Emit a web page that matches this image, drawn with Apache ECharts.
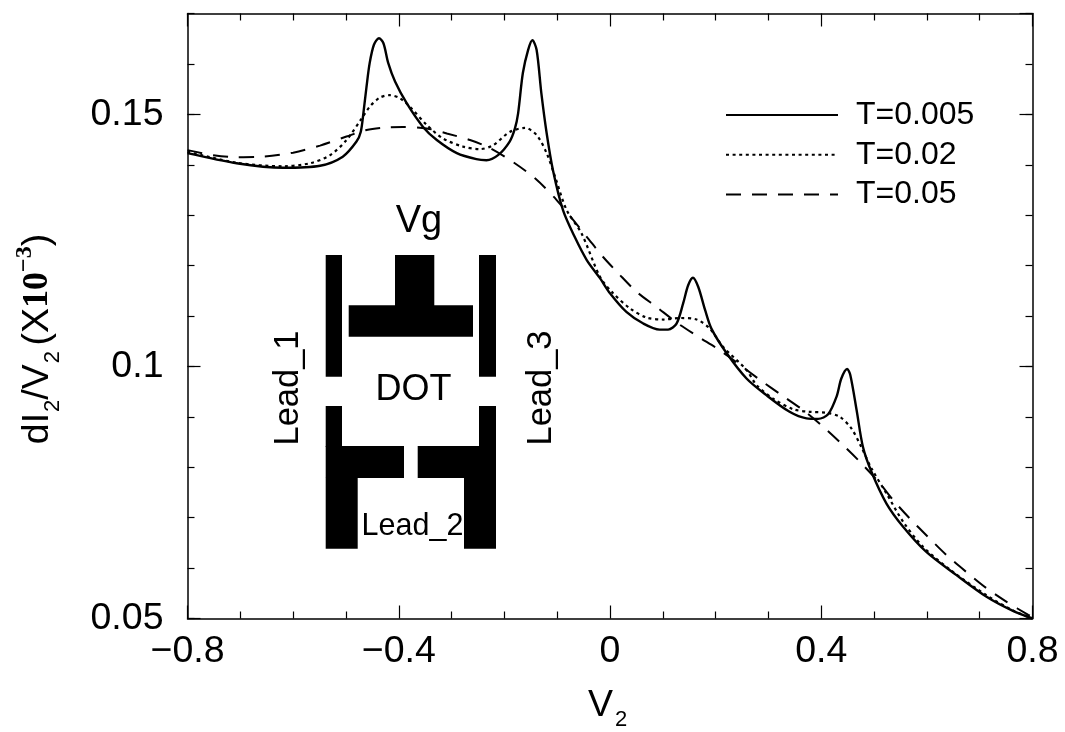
<!DOCTYPE html>
<html><head><meta charset="utf-8">
<style>html,body{margin:0;padding:0;background:#fff}#c{width:1065px;height:732px}</style>
<script src="https://cdn.jsdelivr.net/npm/echarts@6/dist/echarts.min.js"></script>
</head><body><div id="c"></div>
<script>
const seriesNames = ['T=0.005', 'T=0.02', 'T=0.05'];
const xTickValues = [-0.8, -0.4, 0, 0.4, 0.8];
const xTickLabels = ['\u22120.8', '\u22120.4', '0', '0.4', '0.8'];
const yTickValues = [0.05, 0.1, 0.15];
const yTickLabels = ['0.05', '0.1', '0.15'];

const solidX = [-0.8,-0.707,-0.619,-0.549,-0.506,-0.48,-0.472,-0.467,-0.461,-0.455,-0.447,-0.4375,-0.429,-0.42,-0.407,-0.385,-0.354,-0.328,-0.29,-0.253,-0.234,-0.212,-0.19,-0.18,-0.174,-0.165,-0.155,-0.147,-0.139,-0.13,-0.12,-0.108,-0.089,-0.066,-0.044,-0.019,0,0.031,0.063,0.094,0.11,0.126,0.1385,0.148,0.157,0.167,0.18,0.192,0.221,0.2585,0.296,0.34,0.372,0.394,0.413,0.429,0.438,0.449,0.455,0.467,0.479,0.495,0.5235,0.555,0.599,0.656,0.713,0.763,0.8];
const solidY = [0.1423,0.1403,0.1394,0.1398,0.1416,0.1446,0.1465,0.1502,0.1555,0.1602,0.1638,0.1651,0.1641,0.1602,0.1565,0.1522,0.1475,0.1449,0.1423,0.1411,0.1409,0.1419,0.1446,0.1472,0.1502,0.1582,0.1628,0.1647,0.1628,0.1542,0.1463,0.1389,0.131,0.1255,0.1211,0.1175,0.1145,0.1108,0.1085,0.1073,0.1073,0.1085,0.1125,0.1161,0.1176,0.1158,0.1112,0.1075,0.1026,0.0976,0.0943,0.091,0.0897,0.0896,0.0905,0.094,0.0976,0.0995,0.0983,0.0913,0.084,0.0791,0.0728,0.0682,0.0632,0.0586,0.0543,0.0515,0.05];

const dottedX = [-0.8,-0.707,-0.619,-0.568,-0.53,-0.499,-0.47,-0.455,-0.436,-0.417,-0.398,-0.379,-0.347,-0.316,-0.278,-0.246,-0.221,-0.19,-0.161,-0.139,-0.12,-0.104,-0.082,-0.054,-0.019,0.006,0.038,0.069,0.101,0.132,0.164,0.189,0.214,0.2585,0.2775,0.309,0.347,0.378,0.41,0.435,0.457,0.476,0.495,0.5235,0.555,0.593,0.65,0.713,0.763,0.8];
const dottedY = [0.1426,0.1404,0.1397,0.1403,0.1419,0.1449,0.1492,0.1515,0.1533,0.1538,0.1532,0.1515,0.1479,0.1452,0.1436,0.1431,0.1439,0.1465,0.1473,0.1459,0.1423,0.1376,0.131,0.1264,0.1178,0.1145,0.1115,0.1097,0.1093,0.1096,0.1093,0.1075,0.1039,0.0993,0.0963,0.0936,0.0915,0.091,0.0908,0.09,0.0877,0.084,0.0798,0.0748,0.0692,0.0642,0.0592,0.0546,0.0516,0.05];

const dashedX = [-0.8,-0.751,-0.707,-0.657,-0.6,-0.549,-0.499,-0.461,-0.423,-0.392,-0.347,-0.309,-0.265,-0.227,-0.183,-0.142,-0.101,-0.044,-0.013,0.0155,0.0503,0.088,0.129,0.167,0.208,0.246,0.287,0.325,0.366,0.404,0.438,0.473,0.511,0.536,0.568,0.602,0.637,0.675,0.713,0.751,0.792,0.8];
const dashedY = [0.1429,0.1419,0.1415,0.1416,0.1424,0.1438,0.1456,0.1469,0.1474,0.1475,0.1472,0.1462,0.1449,0.1433,0.1405,0.1373,0.133,0.1257,0.1217,0.1185,0.1148,0.1118,0.1085,0.1059,0.1032,0.1003,0.0971,0.0943,0.0913,0.088,0.0847,0.0811,0.0768,0.0735,0.0698,0.0662,0.0626,0.0592,0.056,0.0533,0.0507,0.0503];

const zip = (a, b) => a.map((v, i) => [v, b[i]]);
const FONT = '"Liberation Sans", Arial, sans-serif';
const SERIF = '"Liberation Serif", "Times New Roman", serif';
const BLACK = '#000';

const insetBlocks = [
  [325.7,255,342,376.7],[479,255,496,376.7],
  [395,255,434.3,306],[348.7,305.3,473,336.7],
  [325.7,406,342,447],[325.7,446,404,478],[325.7,477.7,357.7,548.7],
  [479,406,496,447],[417.7,446,496,478],[464,477.7,496,548.7]
];
const insetTexts = [
  {t:'Vg',x:419,y:222,s:38,r:0},
  {t:'DOT',x:413.5,y:390,s:36,r:0},
  {t:'Lead_2',x:412.5,y:527,s:30.5,r:0},
  {t:'Lead_1',x:288,y:388,s:34.5,r:90},
  {t:'Lead_3',x:541,y:388,s:34.5,r:90}
];

const chart = echarts.init(document.getElementById('c'), null, {renderer:'canvas'});
const lineCommon = {type:'line', showSymbol:false, symbol:'none', smooth:0.3, clip:true, xAxisIndex:0, yAxisIndex:0, animation:false};
const axLine = {show:true, onZero:false, lineStyle:{color:BLACK, width:1.5}};
const grid = {left:187.5, top:13.5, width:845, height:605, outerBoundsMode:'none', containLabel:false};
const xLabel = v => { const i = xTickValues.findIndex(t => Math.abs(t - v) < 1e-6); return i < 0 ? '' : xTickLabels[i]; };
const yLabel = v => { const i = yTickValues.findIndex(t => Math.abs(t - v) < 1e-6); return i < 0 ? '' : yTickLabels[i]; };
const xBase = {type:'value', min:-0.8, max:0.8, interval:0.4, splitLine:{show:false}, axisLine:axLine,
  axisTick:{show:true, inside:true, length:13, lineStyle:{color:BLACK, width:1.2}},
  minorTick:{show:true, splitNumber:4, length:7, lineStyle:{color:BLACK, width:1.2}}};
const yMajor = {type:'value', min:0.05, max:0.17, interval:0.05, splitLine:{show:false}, axisLine:axLine,
  axisTick:{show:true, inside:true, length:13, lineStyle:{color:BLACK, width:1.2}}};
const yMinor = {type:'value', min:0.05, max:0.17, interval:0.01, splitLine:{show:false}, axisLine:{show:false, onZero:false},
  axisLabel:{show:false}, axisTick:{show:true, inside:true, length:7, lineStyle:{color:BLACK, width:1.2}}};

chart.setOption({
  animation:false,
  backgroundColor:'#fff',
  grid,
  legend:{show:true, orient:'vertical', left:725, top:99, padding:0, itemWidth:112, itemHeight:28, itemGap:7.7,
    data:seriesNames, selectedMode:false, itemStyle:{color:'transparent', opacity:0, borderWidth:0},
    textStyle:{fontFamily:FONT, fontSize:32, color:BLACK, padding:[0,0,0,13]}},
  xAxis:[
    {...xBase, position:'bottom',
      axisLabel:{show:true, formatter:xLabel, fontFamily:FONT, fontSize:37.5, color:BLACK, margin:14},
      name:'{v|V}{s|2}', nameLocation:'middle', nameGap:62,
      nameTextStyle:{padding:[0,5,0,0], rich:{v:{fontFamily:FONT,fontSize:37.5,color:BLACK,lineHeight:42},s:{fontFamily:FONT,fontSize:22,color:BLACK,padding:[28,0,0,2]}}}},
    {...xBase, position:'top', axisLabel:{show:false}}
  ],
  yAxis:[
    {...yMajor, position:'left', axisLabel:{show:true, showMaxLabel:false, formatter:yLabel, fontFamily:FONT, fontSize:37.5, color:BLACK, margin:24}},
    {...yMajor, position:'right', axisLabel:{show:false}},
    {...yMinor, position:'left'},
    {...yMinor, position:'right'}
  ],
  series:[
    {...lineCommon, name:seriesNames[0], data:zip(solidX, solidY), lineStyle:{color:BLACK, width:2.4, type:'solid'}, itemStyle:{color:BLACK}},
    {...lineCommon, name:seriesNames[1], data:zip(dottedX, dottedY), lineStyle:{color:BLACK, width:2.2, type:[3,3.6]}, itemStyle:{color:BLACK}},
    {...lineCommon, name:seriesNames[2], data:zip(dashedX, dashedY), lineStyle:{color:BLACK, width:2, type:[15,11]}, itemStyle:{color:BLACK}}
  ],
  graphic:[
    ...insetBlocks.map(b => ({type:'rect', silent:true, z:1, shape:{x:b[0],y:b[1],width:b[2]-b[0],height:b[3]-b[1]}, style:{fill:BLACK}})),
    ...insetTexts.map(o => ({type:'text', silent:true, z:5, x:o.x, y:o.y, rotation:o.r*Math.PI/180,
      style:{text:o.t, fontFamily:FONT, fontSize:o.s, fill:BLACK, align:'center', verticalAlign:'middle'}})),
    {type:'text', silent:true, z:5, x:38, y:339, rotation:Math.PI/2,
      style:{align:'center', verticalAlign:'middle',
        text:'{m|dI}{s|2}{m|/V}{s|2}{p| }{m|(X}{b|10}{e|\u22123}{m|)}',
        rich:{
          m:{fontFamily:FONT,fontSize:37.5,fill:BLACK,lineHeight:60},
          p:{fontFamily:FONT,fontSize:20,fill:BLACK},
          s:{fontFamily:FONT,fontSize:22,fill:BLACK,padding:[30,0,0,1]},
          b:{fontFamily:SERIF,fontWeight:'bold',fontSize:36,fill:BLACK},
          e:{fontFamily:SERIF,fontWeight:'bold',fontSize:24,fill:BLACK,padding:[0,0,26,0]}
        }}}
  ]
});
</script></body></html>
